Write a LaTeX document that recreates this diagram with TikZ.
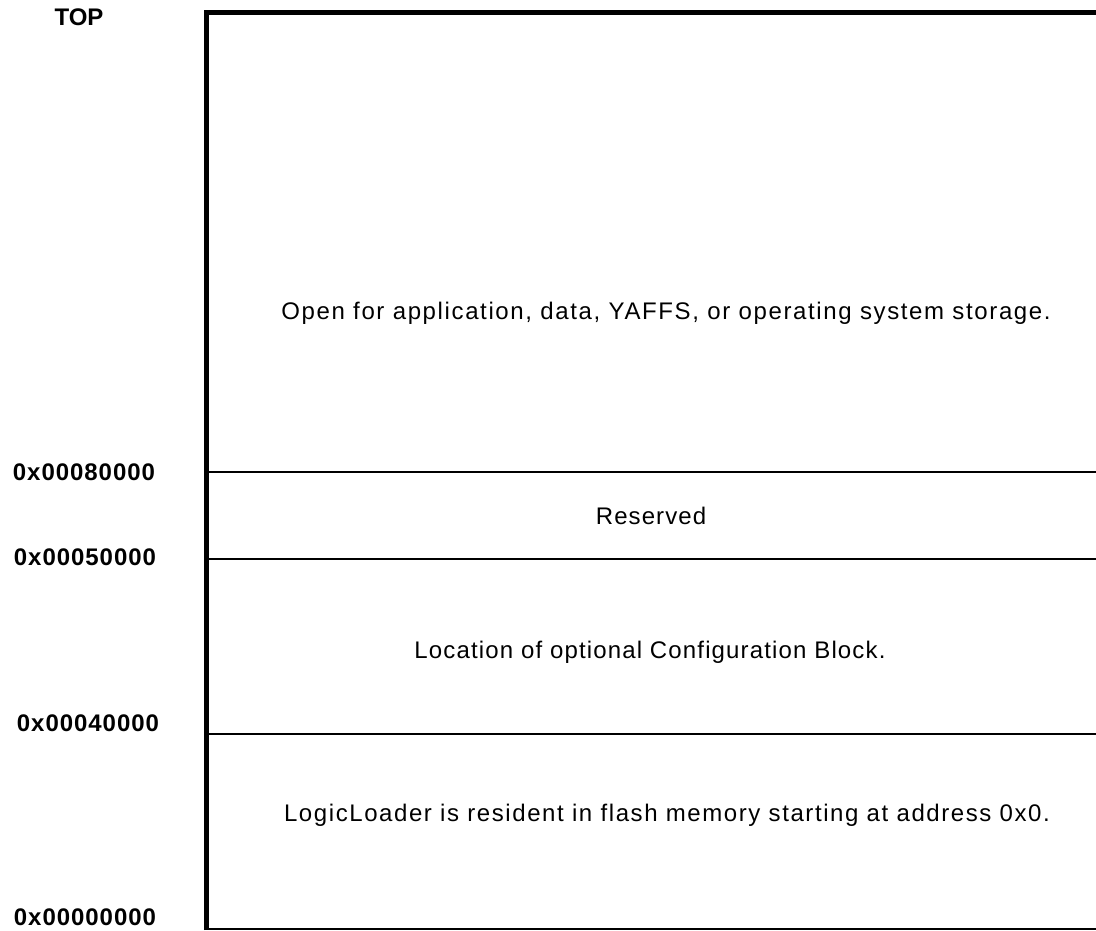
\documentclass[tikz,border=0pt]{standalone}
\usepackage{fontspec}
\setmainfont{Liberation Sans}
\begin{document}
\begin{tikzpicture}[x=1pt,y=-1pt,
  addr/.style={font=\fontsize{24}{28}\selectfont\bfseries\addfontfeature{LetterSpace=4}, inner sep=0pt, anchor=center},
  toplbl/.style={font=\fontsize{24}{28}\selectfont\bfseries, inner sep=0pt, anchor=center},
  body/.style={font=\fontsize{24}{28}\selectfont\addfontfeature{LetterSpace=#1}, inner sep=0pt, anchor=center},
  thick frame/.style={line width=5pt},
  divider/.style={line width=1.5pt}]
\useasboundingbox (0,0) rectangle (1096,930);
% frame
\draw[thick frame] (206.5,930) -- (206.5,12.5) -- (1096,12.5);
\draw[line width=2pt] (209,928.5) -- (1096,928.5);
\draw[divider] (209,472) -- (1096,472);
\draw[divider] (209,559) -- (1096,559);
\draw[divider] (209,734) -- (1096,734);
% labels
\node[toplbl] (top) at (79,17) {TOP};
\node[addr] (a80) at (84,472) {0x00080000};
\node[addr] (a50) at (85,557) {0x00050000};
\node[addr] (a40) at (88,723) {0x00040000};
\node[addr] (a00) at (85,917) {0x00000000};
% texts
\node[body=6.8] (open) at (666,313) {Open for application, data, YAFFS, or operating system storage.};
\node[body=4.5] (res) at (651,516) {Reserved};
\node[body=4.8] (cfg) at (650,652) {Location of optional Configuration Block.};
\node[body=6.6] (ll) at (667,815) {LogicLoader is resident in flash memory starting at address 0x0.};
\end{tikzpicture}
\end{document}
